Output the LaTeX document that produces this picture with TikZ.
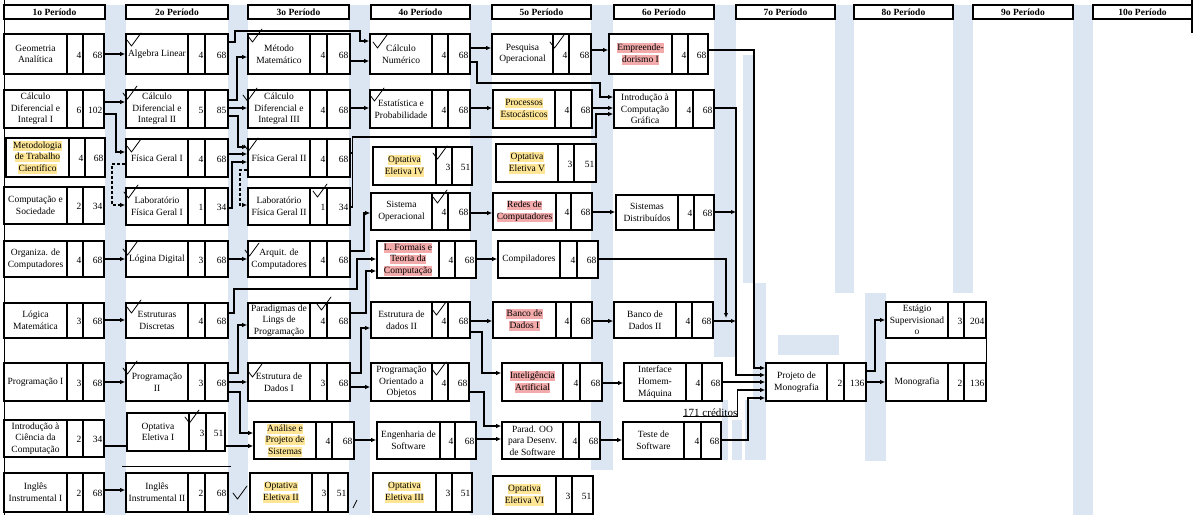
\documentclass[tikz,border=0pt]{standalone}
\usepackage{fontspec}
\setmainfont{Liberation Serif}
\usetikzlibrary{arrows.meta}
\pgfdeclarelayer{back}
\pgfsetlayers{back,main}
\definecolor{stripe}{RGB}{220,230,242}
\definecolor{hly}{RGB}{254,230,150}
\definecolor{hlr}{RGB}{242,170,170}
\setlength\fboxsep{0.3pt}
\newcommand\hlyel[1]{\colorbox{hly}{\rule[-2.2pt]{0pt}{9pt}#1}}
\newcommand\hlred[1]{\colorbox{hlr}{\rule[-2.2pt]{0pt}{9pt}#1}}
\def\splitnums#1/#2\relax{\def\cnumA{#1}\def\cnumB{#2}}
\newcommand\course[9]{%
  \pgfmathsetmacro\cbw{#4-#2}%
  \pgfmathsetmacro\cbh{#5-#3}%
  \pgfmathsetmacro\cbcx{(#2+#4)/2}%
  \pgfmathsetmacro\cbcy{(#3+#5)/2}%
  \pgfmathsetmacro\ctcx{(#2+#6)/2}%
  \splitnums#9\relax
  \node[cbox, minimum width=\cbw pt, minimum height=\cbh pt] (#1) at (\cbcx,\cbcy) {};
  \draw[divl] (#6,#3) -- (#6,#5) (#7,#3) -- (#7,#5);
  \node[ctext] (#1-t) at (\ctcx,\cbcy) {#8};
  \node[cnum, anchor=east] (#1-c) at ({#7-1.5},{\cbcy+1}) {\cnumA};
  \node[cnum, anchor=east] (#1-h) at ({#4-1.5},{\cbcy+1}) {\cnumB};
}
\newcommand\chk[2]{\draw[chkl] (#1,{#2+7}) -- ({#1+4.5},{#2+13}) -- ({#1+14},#2);}
\tikzset{
  cbox/.style={draw, line width=1.6pt, fill=white, inner sep=0pt, rectangle},
  divl/.style={line width=1.3pt},
  ctext/.style={align=center, inner sep=0pt, font=\fontsize{9.5}{11.7}\selectfont},
  cnum/.style={inner sep=0pt, font=\fontsize{9.5}{11.7}\selectfont},
  hdr/.style={draw, line width=2.6pt, fill=white, inner sep=0pt, minimum height=14pt, font=\bfseries\fontsize{9.5}{11}\selectfont},
  arr/.style={line width=1.1pt, -{Latex[length=5pt,width=4.5pt]}},
  con/.style={line width=1.1pt},
  dsh/.style={line width=1.1pt, dash pattern=on 3pt off 2pt, -{Latex[length=5pt,width=4.5pt]}},
  chkl/.style={line width=0.8pt, line join=round, line cap=round},
}
\begin{document}
\begin{tikzpicture}[x=1pt, y=-1pt]
\useasboundingbox (0,0) rectangle (1195,515);
\begin{pgfonlayer}{back}
\fill[white] (0,0) rectangle (1195,515);
\fill[stripe] (105,5) rectangle (126,515);
\fill[stripe] (228,5) rectangle (248,515);
\fill[stripe] (349,5) rectangle (370,515);
\fill[stripe] (470,5) rectangle (492,515);
\fill[stripe] (591,5) rectangle (613,470);
\fill[stripe] (714,5) rectangle (736,357);
\fill[stripe] (743,55) rectangle (753,283);
\fill[stripe] (753,283) rectangle (766,400);
\fill[stripe] (745,400) rectangle (766,460);
\fill[stripe] (732,420) rectangle (742,460);
\fill[stripe] (722,400) rectangle (728,460);
\fill[stripe] (835,5) rectangle (854,293);
\fill[stripe] (953,5) rectangle (973,293);
\fill[stripe] (865,293) rectangle (886,461);
\fill[stripe] (778,335) rectangle (839,355);
\fill[stripe] (1073,5) rectangle (1093,515);
\end{pgfonlayer}
% frame lines
\draw[line width=1pt] (4.5,0) -- (4.5,515);
\draw[line width=1.5pt] (1192,0) -- (1192,33);
% headers
\foreach \i/\hx/\hw in {1/54.5/101, 2/177/102, 3/298.5/101, 4/420.5/99, 5/541.5/99, 6/664/100, 7/785.5/99, 8/903.5/99, 9/1023/100, 10/1142.5/99}
  \node[hdr, minimum width=\hw pt] (h\i) at (\hx,12) {\i o Período};
% column 1
\course{geo}{4}{34}{104}{74}{67}{83}{Geometria\\Analítica}{4/68}
\course{calc1}{4}{90}{104}{128}{67}{83}{Cálculo\\Diferencial e\\Integral I}{6/102}
\course{met}{6}{138}{105}{177}{69}{85}{\hlyel{Metodologia}\\\hlyel{de Trabalho}\\\hlyel{Científico}}{4/68}
\course{cs}{4}{187}{104}{224}{67}{83}{Computação e\\Sociedade}{2/34}
\course{org}{4}{241}{104}{277}{67}{83}{Organiza. de\\Computadores}{4/68}
\course{lm}{4}{303}{104}{338}{67}{83}{Lógica\\Matemática}{3/68}
\course{p1}{4}{363}{104}{401}{67}{83}{Programação I}{3/68}
\course{ic}{4}{420}{104}{457}{67}{83}{Introdução à\\Ciência da\\Computação}{2/34}
\course{ing1}{4}{473}{104}{512}{67}{83}{Inglês\\Instrumental I}{2/68}
% column 2
\course{alg}{126}{34}{228}{74}{188}{205}{Algebra Linear}{4/68}
\course{calc2}{126}{90}{228}{128}{188}{205}{Cálculo\\Diferencial e\\Integral II}{5/85}
\course{fg1}{126}{139}{228}{177}{188}{205}{Física Geral I}{4/68}
\course{lfg1}{126}{188}{228}{225}{188}{205}{Laboratório\\Física Geral I}{1/34}
\course{ld}{126}{241}{228}{277}{188}{205}{Lógina Digital}{3/68}
\course{ed}{126}{303}{228}{338}{188}{205}{Estruturas\\Discretas}{4/68}
\course{p2}{126}{363}{228}{401}{188}{205}{Programação\\II}{3/68}
\course{opt1}{127}{413}{225}{451}{189}{206}{Optativa\\Eletiva I}{3/51}
\course{ing2}{126}{473}{228}{512}{188}{205}{Inglês\\Instrumental II}{2/68}
% column 3
\course{mm}{248}{34}{350}{74}{310}{327}{Método\\Matemático}{4/68}
\course{calc3}{248}{90}{350}{128}{310}{327}{Cálculo\\Diferencial e\\Integral III}{4/68}
\course{fg2}{248}{139}{350}{177}{310}{327}{Física Geral II}{4/68}
\course{lfg2}{248}{188}{350}{225}{310}{327}{Laboratório\\Física Geral II}{1/34}
\course{arq}{248}{241}{350}{277}{310}{327}{Arquit. de\\Computadores}{4/68}
\course{par}{248}{303}{350}{338}{310}{327}{Paradigmas de\\Lings de\\Programação}{4/68}
\course{ed1}{248}{363}{350}{401}{310}{327}{Estrutura de\\Dados I}{3/68}
\course{aps}{254}{422}{354}{459}{316}{332}{\hlyel{Análise e}\\\hlyel{Projeto de}\\\hlyel{Sistemas}}{4/68}
\course{opt2}{250}{473}{348}{512}{312}{328}{\hlyel{Optativa}\\\hlyel{Eletiva II}}{3/51}
% column 4
\course{cn}{370}{34}{470}{74}{432}{448}{Cálculo\\Numérico}{4/68}
\course{est}{370}{90}{470}{128}{432}{448}{Estatística e\\Probabilidade}{4/68}
\course{opt4}{373}{147}{472}{185}{436}{452}{\hlyel{Optativa}\\\hlyel{Eletiva IV}}{3/51}
\course{so}{371}{193}{470}{230}{432}{448}{Sistema\\Operacional}{4/68}
\course{lf}{377}{241}{476}{278}{439}{455}{\hlred{L. Formais e}\\\hlred{Teoria da}\\\hlred{Computação}}{4/68}
\course{ed2}{371}{302}{470}{338}{432}{448}{Estrutura de\\dados II}{4/68}
\course{poo}{371}{363}{469}{401}{432}{448}{Programação\\Orientado a\\Objetos}{4/68}
\course{es}{377}{422}{476}{459}{440}{455}{Engenharia de\\Software}{4/68}
\course{opt3}{373}{473}{472}{512}{436}{452}{\hlyel{Optativa}\\\hlyel{Eletiva III}}{3/51}
% column 5
\course{po}{492}{34}{591}{74}{553}{569}{Pesquisa\\Operacional}{4/68}
\course{pe}{493}{90}{592}{128}{555}{571}{\hlyel{Processos}\\\hlyel{Estocásticos}}{4/68}
\course{opt5}{496}{144}{596}{182}{558}{574}{\hlyel{Optativa}\\\hlyel{Eletiva V}}{3/51}
\course{rc}{493}{193}{592}{230}{556}{571}{\hlred{Redes de}\\\hlred{Computadores}}{4/68}
\course{comp}{498}{241}{598}{278}{560}{577}{Compiladores}{4/68}
\course{bd1}{493}{302}{592}{338}{556}{571}{\hlred{Banco de}\\\hlred{Dados I}}{4/68}
\course{ia}{502}{363}{602}{401}{563}{580}{\hlred{Inteligência}\\\hlred{Artificial}}{4/68}
\course{pood}{502}{422}{600}{459}{563}{579}{Parad. OO\\para Desenv.\\de Software}{4/68}
\course{opt6}{493}{476}{593}{514}{556}{572}{\hlyel{Optativa}\\\hlyel{Eletiva VI}}{3/51}
% column 6
\course{emp}{609}{34}{708}{74}{672}{688}{\hlred{Empreende-}\\\hlred{dorismo I}}{4/68}
\course{icg}{614}{90}{714}{128}{676}{693}{Introdução à\\Computação\\Gráfica}{4/68}
\course{sd}{616}{195}{714}{230}{678}{694}{Sistemas\\Distribuídos}{4/68}
\course{bd2}{614}{302}{713}{338}{676}{692}{Banco de\\Dados II}{4/68}
\course{ihm}{624}{363}{722}{401}{686}{702}{Interface\\Homem-\\Máquina}{4/68}
\course{ts}{623}{422}{721}{459}{684}{701}{Teste de\\Software}{4/68}
% columns 7, 8
\course{proj}{766}{363}{866}{401}{827}{844}{Projeto de\\Monografia}{2/136}
\course{estg}{886}{302}{986}{338}{948}{964}{Estágio\\Supervisionad\\o}{3/204}
\course{mono}{886}{363}{986}{401}{948}{964}{Monografia}{2/136}
\draw[line width=1.3pt] (estg.north east) -- (mono.south east);
% connector hidden behind Optativa Eletiva I
\begin{pgfonlayer}{back}
\draw[arr] (ic.east|-0,446) -- (aps.west|-0,446);
\end{pgfonlayer}
% stray marks
\draw[line width=0.8pt] (122,466) -- (231,466);
\draw[line width=0.8pt] (353,508) -- (357,500);
% connectors col1 -> col2
\draw[arr] (geo.east) -- (alg.west);
\draw[arr] (calc1.east|-0,102) -- (calc2.west|-0,102);
\draw[arr] (calc1.east|-0,114) -- (116,114) |- (fg1.west|-0,152);
\draw[dsh] (fg1.west|-0,164) -- (112,164) |- (lfg1.west|-0,205);
\draw[arr] (org.east|-0,259) -- (ld.west|-0,259);
\draw[arr] (lm.east|-0,320) -- (ed.west|-0,320);
\draw[arr] (p1.east|-0,382) -- (p2.west|-0,382);
\draw[arr] (ing1.east|-0,490) -- (ing2.west|-0,490);
% col2 -> col3
\draw[arr] (alg.east|-0,42) -| (235,31) -| (360,41) -- (cn.west|-0,41);
\draw[arr] (calc2.east|-0,100) -- (237,100) |- (mm.west|-0,57);
\draw[arr] (calc2.east|-0,108) -- (calc3.west|-0,108);
\draw[arr] (calc2.east|-0,116) -- (238,116) |- (fg2.west|-0,147);
\draw[arr] (fg1.east|-0,154) -- (fg2.west|-0,154);
\draw[arr] (lfg1.east|-0,208) -- (232,208) |- (fg2.west|-0,162);
\draw[dsh] (fg2.west|-0,170) -- (240,170) |- (lfg2.west|-0,205);
\draw[arr] (ld.east|-0,259) -- (arq.west|-0,259);
\draw[arr] (ed.east|-0,313) -- (234,313) |- (357,289) |- (lf.west|-0,259);
\draw[arr] (p2.east|-0,373) -- (238,373) |- (par.west|-0,325);
\draw[arr] (p2.east|-0,382) -- (ed1.west|-0,382);
\draw[arr] (p2.east|-0,392) -- (240,392) |- (aps.west|-0,433);
% col3 -> col4
\draw[arr] (mm.east|-0,61) -- (cn.west|-0,61);
\draw[arr] (calc3.east|-0,108) -- (est.west|-0,108);
\coordinate (j1) at (352.5,153);
\draw[con] (fg2.east|-0,153) -- (j1);
\draw[arr] (lfg2.east|-0,207) -- (352.5,207) |- (596,137) |- (icg.west|-0,114);
\draw[arr] (arq.east|-0,251) -- (364,251) |- (so.west|-0,213);
\draw[arr] (par.east|-0,313) -- (366,313) |- (lf.west|-0,271);
\draw[arr] (ed1.east|-0,373) -- (361,373) |- (ed2.west|-0,328);
\draw[arr] (ed1.east|-0,387) -- (poo.west|-0,387);
\draw[arr] (aps.east|-0,440) -- (es.west|-0,440);
% col4 -> col5
\draw[arr] (cn.east|-0,48) -- (po.west|-0,48);
\draw[arr] (cn.east|-0,62) -- (477,62) |- (600,83) |- (icg.west|-0,97);
\draw[arr] (est.east|-0,108) -- (pe.west|-0,108);
\draw[arr] (so.east|-0,213) -- (rc.west|-0,213);
\draw[arr] (lf.east|-0,259) -- (comp.west|-0,259);
\draw[arr] (ed2.east|-0,321) -- (bd1.west|-0,321);
\draw[arr] (ed2.east|-0,332) -- (482,332) |- (ia.west|-0,373);
\draw[arr] (poo.east|-0,392) -- (484,392) |- (pood.west|-0,426);
\draw[arr] (es.east|-0,439) -- (pood.west|-0,439);
% col5 -> col6
\draw[arr] (po.east|-0,50) -- (emp.west|-0,50);
\draw[arr] (pe.east|-0,108) -- (icg.west|-0,108);
\draw[arr] (rc.east|-0,212) -- (sd.west|-0,212);
\draw[arr] (bd1.east|-0,321) -- (bd2.west|-0,321);
\draw[arr] (ia.east|-0,383) -- (ihm.west|-0,383);
\draw[arr] (pood.east|-0,440) -- (ts.west|-0,440);
% col6 -> col7
\draw[arr] (emp.east|-0,50) -- (754,50) |- (proj.west|-0,368);
\draw[arr] (icg.east|-0,108) -- (736,108) |- (proj.west|-0,375);
\coordinate (j2) at (736,212);
\draw[arr] (sd.east|-0,212) -- (j2);
\coordinate (j3) at (726,318);
\draw[arr] (comp.east|-0,259) -| (j3);
\coordinate (j4) at (736,321);
\draw[arr] (bd2.east|-0,321) -- (j4);
\draw[arr] (ihm.east|-0,382) -- (proj.west|-0,382);
\node[inner sep=0pt, anchor=base west, font=\fontsize{11}{13}\selectfont] (cred) at (683,416) {171 créditos};
\draw[arr] (cred.south west) -- (cred.south east) |- (proj.west|-0,390);
\draw[arr] (ts.east|-0,440) -- (748,440) |- (proj.west|-0,398);
\draw[arr] (proj.east|-0,382) -- (mono.west|-0,382);
\draw[arr] (proj.east|-0,371) -- (875,371) |- (estg.west|-0,320);
% check marks
\chk{127}{33} \chk{123}{86} \chk{127}{139} \chk{124}{185} \chk{123}{242}
\chk{127}{300} \chk{123}{361} \chk{185}{410}
\chk{248}{29} \chk{243}{88} \chk{244}{138} \chk{313}{184} \chk{245}{243}
\chk{317}{297} \chk{248}{364} \chk{233}{486}
\chk{373}{35} \chk{370}{88} \chk{433}{146} \chk{433}{190} \chk{432}{302} \chk{432}{362}
\chk{550}{35}
\end{tikzpicture}
\end{document}
